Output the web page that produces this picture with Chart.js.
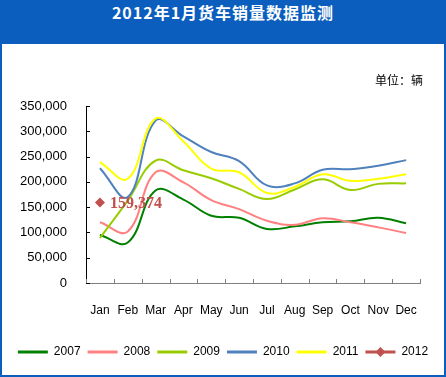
<!DOCTYPE html>
<html>
<head>
<meta charset="utf-8">
<script src="https://cdn.jsdelivr.net/npm/chart.js@4.4.0/dist/chart.umd.min.js"></script>
<style>
  html, body { margin: 0; padding: 0; background: #fff; }
  #frame {
    position: absolute; left: 0; top: 0; width: 446px; height: 377px;
    box-sizing: border-box; border: 2px solid #0B5EBE; z-index: 2; pointer-events: none;
  }
  #banner {
    position: absolute; left: 0; top: 0; width: 446px; height: 44px;
    background: #0B5EBE; color: #fff; text-align: center; line-height: 46px;
    font: bold 16px "Noto Sans CJK SC"; letter-spacing: 1px; z-index: 3;
  }
  #unit {
    position: absolute; left: 375px; top: 71px;
    font: 12px "Noto Sans CJK SC"; color: #000; z-index: 3;
  }
  canvas { position: absolute; left: 0; top: 0; }
</style>
</head>
<body>
<div id="frame"></div>
<div id="banner">2012年1月货车销量数据监测</div>
<div id="unit">单位：辆</div>
<canvas id="chart" width="446" height="377"></canvas>
<script>
// categories and series
const months = ['Jan', 'Feb', 'Mar', 'Apr', 'May', 'Jun', 'Jul', 'Aug', 'Sep', 'Oct', 'Nov', 'Dec'];
const years = ['2007', '2008', '2009', '2010', '2011', '2012'];
const colors = ['#008000', '#FF8080', '#99CC00', '#4F81BD', '#FFFF00', '#C0504D'];

const sales2007 = [95000, 80000, 183000, 165000, 133000, 129000, 107000, 112000, 120000, 122000, 129000, 118000];
const sales2008 = [120000, 102000, 219000, 199000, 164000, 146000, 123000, 115000, 128000, 120000, 110000, 99000];
const sales2009 = [89000, 163000, 242000, 223000, 207000, 186000, 166000, 185000, 205000, 184000, 196000, 197000];
const sales2010 = [227000, 170000, 321000, 290000, 259000, 241000, 193000, 197000, 224000, 225000, 232000, 243000];
const sales2011 = [239000, 206000, 325000, 280000, 226000, 219000, 178000, 190000, 215000, 202000, 206000, 215000];
const sales2012 = [159374, null, null, null, null, null, null, null, null, null, null, null];

const yMin = 0;
const yMax = 350000;
const yStep = 50000;

const allSeries = [sales2007, sales2008, sales2009, sales2010, sales2011, sales2012];

const datasets = allSeries.map((data, i) => {
  const isPoint = i === 5;
  return {
    label: years[i],
    data: data,
    borderColor: colors[i],
    backgroundColor: colors[i],
    borderWidth: 2,
    tension: 0.4,
    pointRadius: isPoint ? 5 : 0,
    pointStyle: 'rectRot',
    pointBorderWidth: 0,
    order: allSeries.length - i   // later years drawn on top, like the original
  };
});

const fmt = v => new Intl.NumberFormat('en-US').format(v);

// inside tick marks, the data label and the legend diamond
const extras = {
  id: 'extras',
  afterDatasetsDraw(chart) {
    const { ctx, chartArea, scales: { x, y } } = chart;
    ctx.save();

    // y axis ticks point into the plot
    ctx.strokeStyle = '#000';
    ctx.lineWidth = 1;
    y.ticks.forEach((t, i) => {
      const py = Math.round(y.getPixelForTick(i)) + 0.5;
      ctx.beginPath();
      ctx.moveTo(chartArea.left, py);
      ctx.lineTo(chartArea.left + 4, py);
      ctx.stroke();
    });

    // x axis ticks between the categories
    ctx.strokeStyle = '#808080';
    const half = (x.getPixelForValue(1) - x.getPixelForValue(0)) / 2;
    for (let i = 0; i <= months.length; i++) {
      const px = Math.round(x.getPixelForValue(i) - half) + 0.5;
      ctx.beginPath();
      ctx.moveTo(px, chartArea.bottom);
      ctx.lineTo(px, chartArea.bottom - 4);
      ctx.stroke();
    }

    // label for the 2012 point
    const meta = chart.getDatasetMeta(5);
    const pt = meta.data[0];
    ctx.fillStyle = colors[5];
    ctx.font = 'bold 16px "Liberation Serif"';
    ctx.textAlign = 'left';
    ctx.textBaseline = 'middle';
    ctx.fillText(fmt(sales2012[0]), pt.x + 10, pt.y + 1);
    ctx.restore();
  },
  afterDraw(chart) {
    const box = chart.legend.legendHitBoxes[5];
    if (!box) return;
    const { ctx } = chart;
    const cx = box.left + 15;
    const cy = box.top + box.height / 2;
    ctx.save();
    ctx.fillStyle = colors[5];
    ctx.beginPath();
    ctx.moveTo(cx, cy - 5);
    ctx.lineTo(cx + 5, cy);
    ctx.lineTo(cx, cy + 5);
    ctx.lineTo(cx - 5, cy);
    ctx.closePath();
    ctx.fill();
    ctx.restore();
  }
};

new Chart(document.getElementById('chart'), {
  type: 'line',
  data: { labels: months, datasets: datasets },
  options: {
    responsive: false,
    animation: false,
    layout: { padding: { top: 106, left: 0, right: 0, bottom: 9 } },
    plugins: {
      tooltip: { enabled: false },
      legend: {
        position: 'bottom',
        labels: {
          boxWidth: 30,
          boxHeight: 3,
          padding: 7,
          color: '#000',
          font: { family: 'Liberation Sans', size: 12 },
          generateLabels: chart => chart.data.datasets.map((ds, i) => ({
            text: ds.label,
            fillStyle: ds.borderColor,
            strokeStyle: ds.borderColor,
            lineWidth: 0,
            hidden: false,
            datasetIndex: i
          }))
        }
      }
    },
    scales: {
      x: {
        offset: true,
        grid: { display: false, drawTicks: false },
        border: { display: true, color: '#808080', width: 1 },
        ticks: {
          color: '#000',
          padding: 20,
          maxRotation: 0,
          autoSkip: false,
          font: { family: 'Liberation Sans', size: 12 }
        },
        afterFit: scale => { scale.height = 56; }
      },
      y: {
        min: yMin,
        max: yMax,
        grid: { display: false, drawTicks: false },
        border: { display: true, color: '#000', width: 1 },
        ticks: {
          stepSize: yStep,
          color: '#000',
          padding: 19,
          font: { family: 'Liberation Sans', size: 13 },
          callback: v => fmt(v)
        },
        afterFit: scale => { scale.width = 86; }
      },
      // empty axis that only keeps the right margin of the plot
      spacer: {
        type: 'linear',
        position: 'right',
        display: true,
        grid: { display: false, drawTicks: false },
        border: { display: false },
        ticks: { display: false },
        afterFit: scale => { scale.width = 26; }
      }
    }
  },
  plugins: [extras]
});
</script>
</body>
</html>
